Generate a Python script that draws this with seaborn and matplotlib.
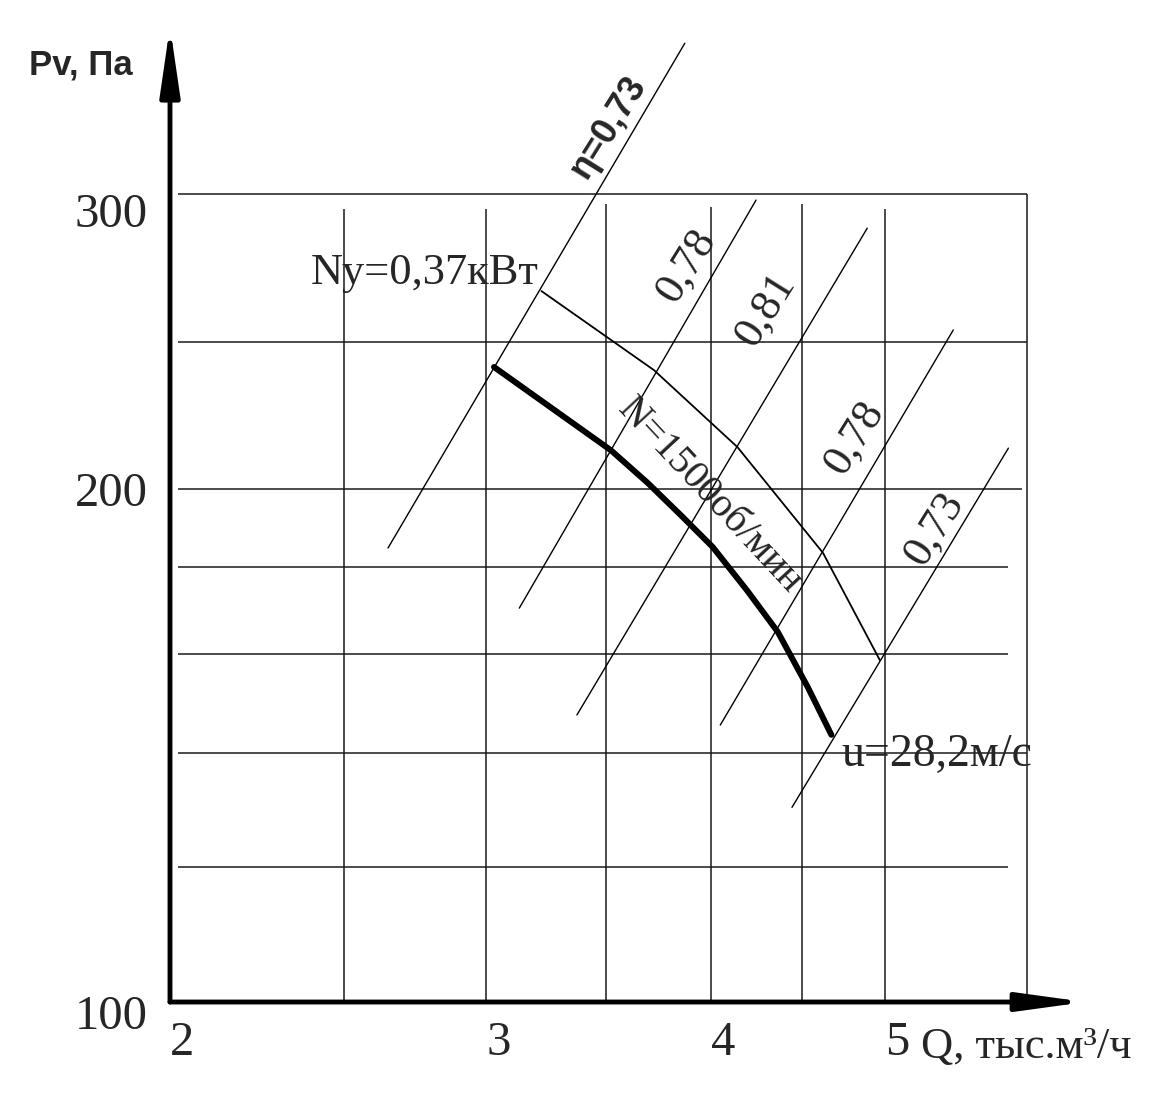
import numpy as np
import matplotlib
matplotlib.use("Agg")
import matplotlib.pyplot as plt
from matplotlib.ticker import NullLocator
from matplotlib.transforms import ScaledTranslation
import seaborn as sns

sns.set_style("white")
plt.rcParams['font.family'] = ['Liberation Serif', 'DejaVu Serif']

# fan curve, N = 1500 rpm (Q in thousand m3/h, Pv in Pa)
curve_Q = [3.03, 3.52, 3.69, 3.85, 4.01, 4.19, 4.36, 4.53, 4.67]
curve_P = [235.9, 210.8, 201.7, 193.1, 185.0, 174.5, 164.9, 153.1, 143.5]

# power line Ny = 0,37 kW
power_Q = [3.22, 3.72, 4.14, 4.62, 4.97]
power_P = [261.4, 234.9, 211.7, 183.5, 158.7]

# efficiency lines (start and end points)
eta_labels = ['η=0,73', '0,78', '0,81', '0,78', '0,73']
eta_Q1 = [3.87, 4.24, 4.89, 5.46, 5.86]
eta_P1 = [365.4, 295.6, 284.6, 248.0, 211.4]
eta_Q2 = [2.645, 3.13, 3.37, 4.05, 4.44]
eta_P2 = [184.7, 170.3, 147.4, 145.4, 130.1]
eta_lab_Q = [3.51, 3.876, 4.29, 4.81, 5.33]
eta_lab_P = [326.2, 270.7, 254.8, 214.3, 189.7]

# grid
hgrid_P = [120, 140, 160, 180, 200, 244, 298]
hgrid_end = [5.86, 6.0, 5.86, 5.86, 5.96, 6.0, 6.0]
vgrid_Q = [2.5, 3, 3.5, 4, 4.5, 5, 6]
vgrid_top = [292, 292, 294, 293, 294, 292, 298]

x_ticks = [2, 3, 4, 5]
y_ticks = [100, 200, 300]

fig = plt.figure(figsize=(11.58, 11.01), dpi=100)
ax = fig.add_axes([0.1468, 0.0899, 0.7781, 0.8756])
ax.set_xscale('log')
ax.set_yscale('log')
ax.set_xlim(2, 6.35)
ax.set_ylim(100, 368)

# grid segments
ax.hlines(hgrid_P, 2.02, hgrid_end, color='#1a1a1a', lw=1.1)
ax.vlines(vgrid_Q, 100, vgrid_top, color='#1a1a1a', lw=1.1)

# efficiency lines
for i in range(len(eta_labels)):
    sns.lineplot(x=[eta_Q1[i], eta_Q2[i]], y=[eta_P1[i], eta_P2[i]],
                 sort=False, color='black', lw=1.0, ax=ax)
    if i == 0:
        ax.text(eta_lab_Q[i], eta_lab_P[i], eta_labels[i], rotation=58,
                ha='center', va='center', fontsize=26, fontweight='bold',
                family=['Liberation Sans', 'DejaVu Sans'])
    else:
        ax.text(eta_lab_Q[i], eta_lab_P[i], eta_labels[i], rotation=58,
                ha='center', va='center', fontsize=32)

# power and pressure curves
sns.lineplot(x=power_Q, y=power_P, sort=False, color='black', lw=1.3, ax=ax)
sns.lineplot(x=curve_Q, y=curve_P, sort=False, color='black', lw=4.3, ax=ax)

ax.text(3.21, 268, 'Ny=0,37кВт', ha='right', va='center', fontsize=32)
ax.text(3.995, 198.2, 'N=1500об/мин', rotation=-47, ha='center', va='center',
        fontsize=29)
ax.text(4.73, 139.6, 'u=28,2м/с', ha='left', va='center', fontsize=33)

# axes with arrows
for sp in ax.spines.values():
    sp.set_visible(False)
ax.annotate('', xy=(0, 1.012), xytext=(0, 0), xycoords='axes fraction',
            arrowprops=dict(arrowstyle='-|>,head_length=4.1,head_width=0.6',
                            lw=3.5, color='black', shrinkA=0, shrinkB=0))
ax.annotate('', xy=(1.016, 0), xytext=(0, 0), xycoords='axes fraction',
            arrowprops=dict(arrowstyle='-|>,head_length=4.0,head_width=0.55',
                            lw=3.5, color='black', shrinkA=0, shrinkB=0))

ax.xaxis.set_minor_locator(NullLocator())
ax.yaxis.set_minor_locator(NullLocator())
ax.set_xticks(x_ticks, labels=[str(v) for v in x_ticks])
ax.set_yticks(y_ticks, labels=[str(v) for v in y_ticks])
ax.tick_params(axis='both', length=0, labelsize=35)
ax.tick_params(axis='x', pad=14)
ax.tick_params(axis='y', pad=16)

# labels in the scan sit a little off their ticks
for lab in ax.get_xticklabels():
    lab.set_transform(lab.get_transform() + ScaledTranslation(9 / 72, 0, fig.dpi_scale_trans))
ylabs = ax.get_yticklabels()
ylabs[0].set_transform(ylabs[0].get_transform() + ScaledTranslation(0, -7 / 72, fig.dpi_scale_trans))
ylabs[2].set_transform(ylabs[2].get_transform() + ScaledTranslation(0, -15 / 72, fig.dpi_scale_trans))

ax.text(5.24, -0.047, 'Q, тыс.м³/ч', transform=ax.get_xaxis_transform(),
        ha='left', va='center', fontsize=32)
ax.text(-0.157, 0.972, 'Pv, Па', transform=ax.transAxes, ha='left',
        va='center', fontsize=25, fontweight='bold',
        family=['Liberation Sans', 'DejaVu Sans'])

fig.savefig('out.png', dpi=100, facecolor='white')
